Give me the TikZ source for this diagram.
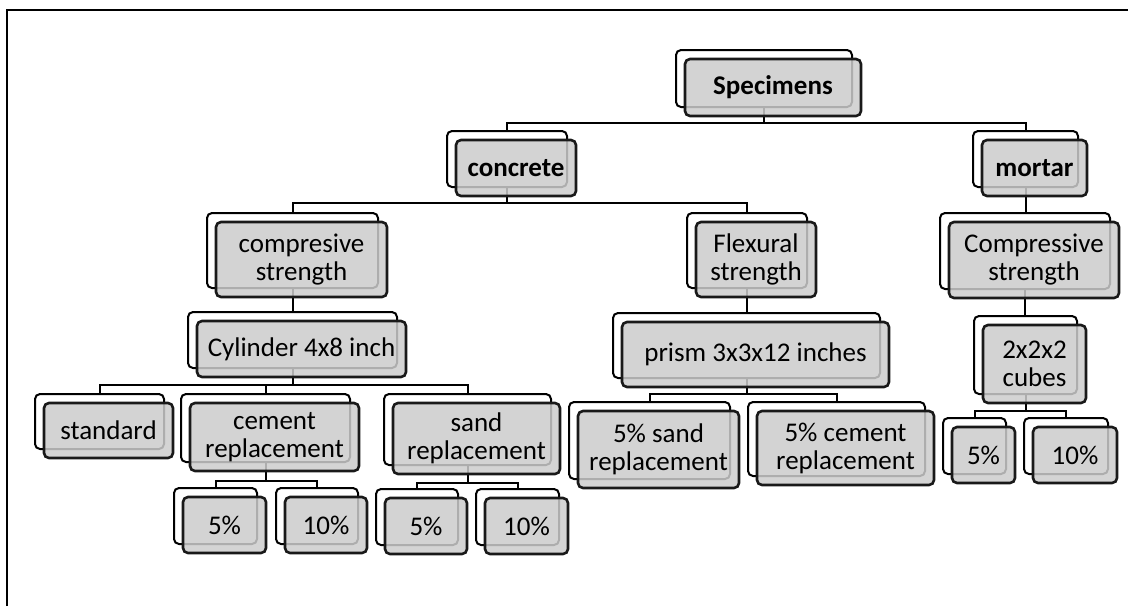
\documentclass[tikz,border=0pt]{standalone}
\usepackage{fontspec}
\setmainfont{Carlito}
\usetikzlibrary{backgrounds}

% one box of the chart: white card behind, grey card in front
\newcommand{\card}[6]{%
    \node[cardback, minimum width=#4*0.5pt, minimum height=#5*0.5pt] (#1) at (#2-9,#3-9) {};
    \node[card, minimum width=#4*0.5pt, minimum height=#5*0.5pt] (#1-f) at (#2,#3) {#6};
}

\begin{document}
\begin{tikzpicture}[
        x=0.5pt, y=-0.5pt,
        cardback/.style={draw=black, fill=white, rounded corners=2.5pt, line width=1pt, inner sep=0pt},
        card/.style={draw=black!90, fill=black!20, fill opacity=0.85, text opacity=1,
                rounded corners=2.5pt, line width=1.3pt, inner sep=0pt, align=center,
                font=\fontsize{13.5}{14}\selectfont},
        link/.style={draw=black, line width=1pt},
    ]
    \useasboundingbox (0,0) rectangle (1128,606);
    \draw[line width=1pt] (7,606) -- (7,10) -- (1128,10);

    % level 0 and 1
    \card{spec}{773}{87.5}{176}{57}{\textbf{Specimens}}
    \card{conc}{516}{168}{120}{56}{\textbf{concrete}}
    \card{mort}{1034.5}{168}{105}{56}{\textbf{mortar}}

    % tests
    \card{ccomp}{301.5}{259.5}{171}{75}{compresive\\strength}
    \card{flex}{756}{259.5}{120}{75}{Flexural\\strength}
    \card{mcomp}{1034}{260}{170}{76}{Compressive\\strength}

    % specimen shapes
    \card{cyl}{301.5}{349}{209}{56}{Cylinder 4x8 inch}
    \card{prism}{755.5}{354.5}{267}{65}{prism 3x3x12 inches}
    \card{cube}{1034.5}{364}{103}{78}{2x2x2\\cubes}

    % mixes
    \card{std}{108.5}{430.5}{129}{55}{standard}
    \card{crep}{274.5}{437}{169}{68}{cement\\replacement}
    \card{srep}{476.5}{438.5}{167}{71}{sand\\replacement}
    \card{psand}{658.5}{449.5}{161}{77}{5\% sand\\replacement}
    \card{pcem}{845.5}{448}{177}{74}{5\% cement\\replacement}
    \card{mfive}{983.5}{455}{63}{56}{5\%}
    \card{mten}{1075}{455}{84}{56}{10\%}

    % percentages
    \card{cfive}{224.5}{525}{83}{56}{5\%}
    \card{cten}{326}{525}{82}{56}{10\%}
    \card{sfive}{426}{526}{82}{56}{5\%}
    \card{sten}{526.5}{526}{83}{56}{10\%}

    \begin{scope}[on background layer]
        \coordinate (bar1) at (0,123);
        \coordinate (bar2) at (0,203);
        \coordinate (bar3) at (0,385);
        \coordinate (bar4) at (0,394);
        \coordinate (bar5) at (0,411);
        \coordinate (bar6) at (0,481);
        \coordinate (bar7) at (0,483);

        \foreach \a/\b/\bar in {spec/conc/bar1, spec/mort/bar1,
                conc/ccomp/bar2, conc/flex/bar2,
                cyl/std/bar3, cyl/crep/bar3, cyl/srep/bar3,
                prism/psand/bar4, prism/pcem/bar4,
                cube/mfive/bar5, cube/mten/bar5,
                crep/cfive/bar6, crep/cten/bar6,
                srep/sfive/bar7, srep/sten/bar7}
            \path[link] (\a.south) -- (\a.south |- \bar) -| (\b.north);

        \foreach \a/\b in {mort/mcomp, ccomp/cyl, flex/prism, mcomp/cube}
            \path[link] (\a.south) -- (\a.south |- \b.north);
    \end{scope}
\end{tikzpicture}
\end{document}
